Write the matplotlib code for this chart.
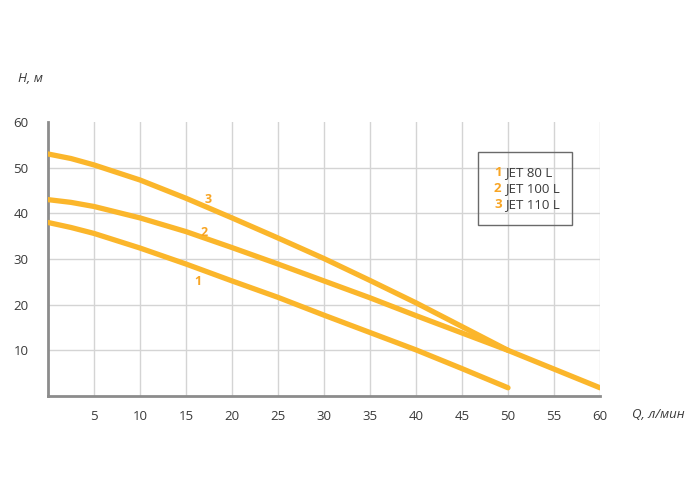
import matplotlib
matplotlib.use("Agg")
import matplotlib.pyplot as plt
from matplotlib.patches import Rectangle

plt.rcParams['font.family'] = ['Open Sans', 'DejaVu Sans']

q1 = [0, 2.5, 5, 10, 15, 20, 25, 30, 35, 40, 45, 50]
h1 = [38, 36.9, 35.6, 32.4, 28.9, 25.2, 21.6, 17.7, 13.9, 10.1, 6.0, 1.8]
q2 = [0, 2.5, 5, 10, 15, 20, 25, 30, 35, 40, 45, 50, 55, 60]
h2 = [43, 42.4, 41.5, 39, 36, 32.5, 28.9, 25.2, 21.5, 17.6, 13.8, 10, 5.9, 1.8]
q3 = [0, 2.5, 5, 10, 15, 20, 25, 30, 35, 40, 45, 50]
h3 = [53, 52, 50.6, 47.3, 43.3, 39, 34.6, 30.1, 25.3, 20.4, 15.2, 10]
series_names = ["JET 80 L", "JET 100 L", "JET 110 L"]
series_ids = ["1", "2", "3"]
label_pos = [(16.3, 25.0), (17.0, 35.8), (17.4, 43.0)]
xticks = [5, 10, 15, 20, 25, 30, 35, 40, 45, 50, 55, 60]
yticks = [10, 20, 30, 40, 50, 60]

orange = "#FBB62B"
label_orange = "#F8A524"
text_col = "#3a3a3a"

fig = plt.figure(figsize=(7, 5), dpi=100)
ax = fig.add_axes([48/700, 1-396/500, (600-48)/700, (396-122)/500])
ax.set_xlim(0, 60)
ax.set_ylim(0, 60)

for x in xticks:
    ax.axvline(x, color="#d4d4d4", lw=1.0, zorder=1)
for y in yticks[:-1]:
    ax.axhline(y, color="#d4d4d4", lw=1.0, zorder=1)

for q, h in [(q1, h1), (q2, h2), (q3, h3)]:
    ax.plot(q, h, color=orange, lw=3.8, solid_capstyle="round", solid_joinstyle="round", zorder=3)

for sid, (x, y) in zip(series_ids, label_pos):
    ax.text(x, y, sid, color=label_orange, fontsize=9, fontweight="bold", ha="center", va="center", zorder=4)

for s in ["top", "right"]:
    ax.spines[s].set_visible(False)
for s in ["left", "bottom"]:
    ax.spines[s].set_color("#8c8c8c")
    ax.spines[s].set_linewidth(2.0)

ax.set_xticks(xticks)
ax.set_yticks(yticks)
ax.set_xticklabels([str(v) for v in xticks])
ax.set_yticklabels([str(v) for v in yticks])
ax.tick_params(length=0, colors=text_col, labelsize=9.5)
ax.tick_params(axis="x", pad=10)
ax.tick_params(axis="y", pad=14)

fig.text(18/700, 1-78/500, "H, м", fontsize=9.5, style="italic", color=text_col, ha="left", va="center")
fig.text(632/700, 1-414/500, "Q, л/мин", fontsize=9.5, style="italic", color=text_col, ha="left", va="center")

# legend box
fig.patches.append(Rectangle((478/700, 1-225/500), (572-478)/700, (225-152)/500,
                             transform=fig.transFigure, fill=False, edgecolor="#6a6a6a", lw=1.0))
ys = [173, 189, 205]
for sid, name, y in zip(series_ids, series_names, ys):
    fig.text(494/700, 1-y/500, sid, fontsize=9.5, fontweight="bold", color=label_orange, ha="left", va="center")
    fig.text(505/700, 1-y/500, name, fontsize=9.5, color=text_col, ha="left", va="center")

fig.savefig("out.png", dpi=100, facecolor="white")
